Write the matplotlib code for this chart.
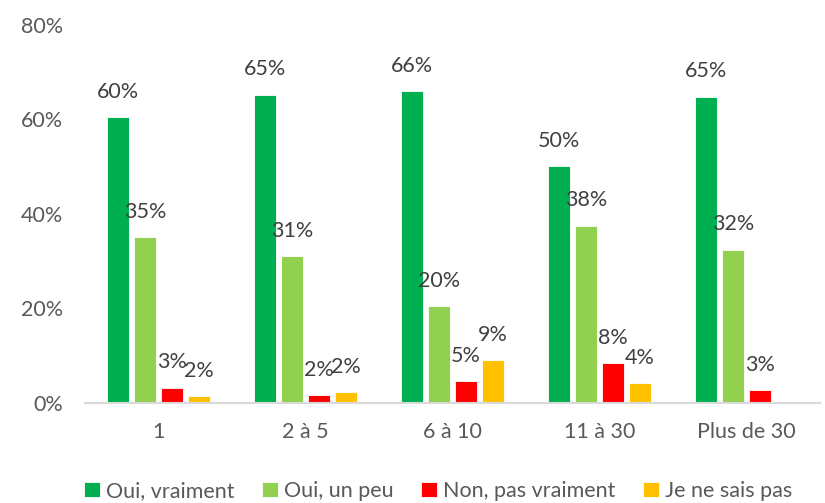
import matplotlib
matplotlib.use("Agg")
import matplotlib.pyplot as plt
import numpy as np
from matplotlib.ticker import FuncFormatter

categories = ["1", "2 à 5", "6 à 10", "11 à 30", "Plus de 30"]
series_names = ["Oui, vraiment", "Oui, un peu", "Non, pas vraiment", "Je ne sais pas"]
oui_vraiment = [60.4, 65.2, 66.0, 50.0, 64.8]
oui_un_peu = [35.0, 31.1, 20.4, 37.5, 32.4]
non_pas_vraiment = [3.2, 1.6, 4.6, 8.4, 2.75]
je_ne_sais_pas = [1.5, 2.3, 9.1, 4.2, None]
yticks = [0, 20, 40, 60, 80]

colors = ["#00B050", "#92D050", "#FF0000", "#FFC000"]
series = [oui_vraiment, oui_un_peu, non_pas_vraiment, je_ne_sais_pas]

plt.rcParams['font.family'] = ['Lato', 'DejaVu Sans']

fig = plt.figure(figsize=(8.25, 5.03), dpi=100)
ax = fig.add_axes([0.103, 0.199, 0.891, 0.752])

x = np.arange(len(categories))
step = 0.1837
width = 0.148
offsets = (np.arange(4) - 1.5) * step

for k, (vals, col, name) in enumerate(zip(series, colors, series_names)):
    xs = [xi + offsets[k] for xi, v in zip(x, vals) if v is not None]
    hs = [v for v in vals if v is not None]
    ax.bar(xs, hs, width=width, color=col, edgecolor="white", linewidth=0.6, label=name, zorder=2)
    for xi, v in zip(xs, hs):
        ax.annotate(f"{round(v):d}%", (xi, v), xytext=(0, 11), textcoords="offset points",
                    ha="center", va="bottom", fontsize=15.5, color="#404040")

ax.set_xlim(-0.5, len(categories) - 0.5)
ax.set_ylim(0, 80)
ax.set_yticks(yticks)
ax.yaxis.set_major_formatter(FuncFormatter(lambda v, p: f"{v:.0f}%"))
ax.set_xticks(x)
ax.set_xticklabels(categories)
ax.tick_params(axis="both", length=0, labelsize=15.5, labelcolor="#595959")
ax.tick_params(axis="y", pad=16)
ax.tick_params(axis="x", pad=14)
for s in ["top", "right", "left"]:
    ax.spines[s].set_visible(False)
ax.spines["bottom"].set_color("#D9D9D9")
ax.spines["bottom"].set_linewidth(1.5)

leg = fig.legend(loc="center", bbox_to_anchor=(0.531, 0.024), ncol=4, frameon=False,
                 fontsize=15.5, handlelength=0.75, handleheight=0.75, handletextpad=0.3,
                 columnspacing=1.25, labelcolor="#595959")

fig.savefig("out.png", dpi=100)
